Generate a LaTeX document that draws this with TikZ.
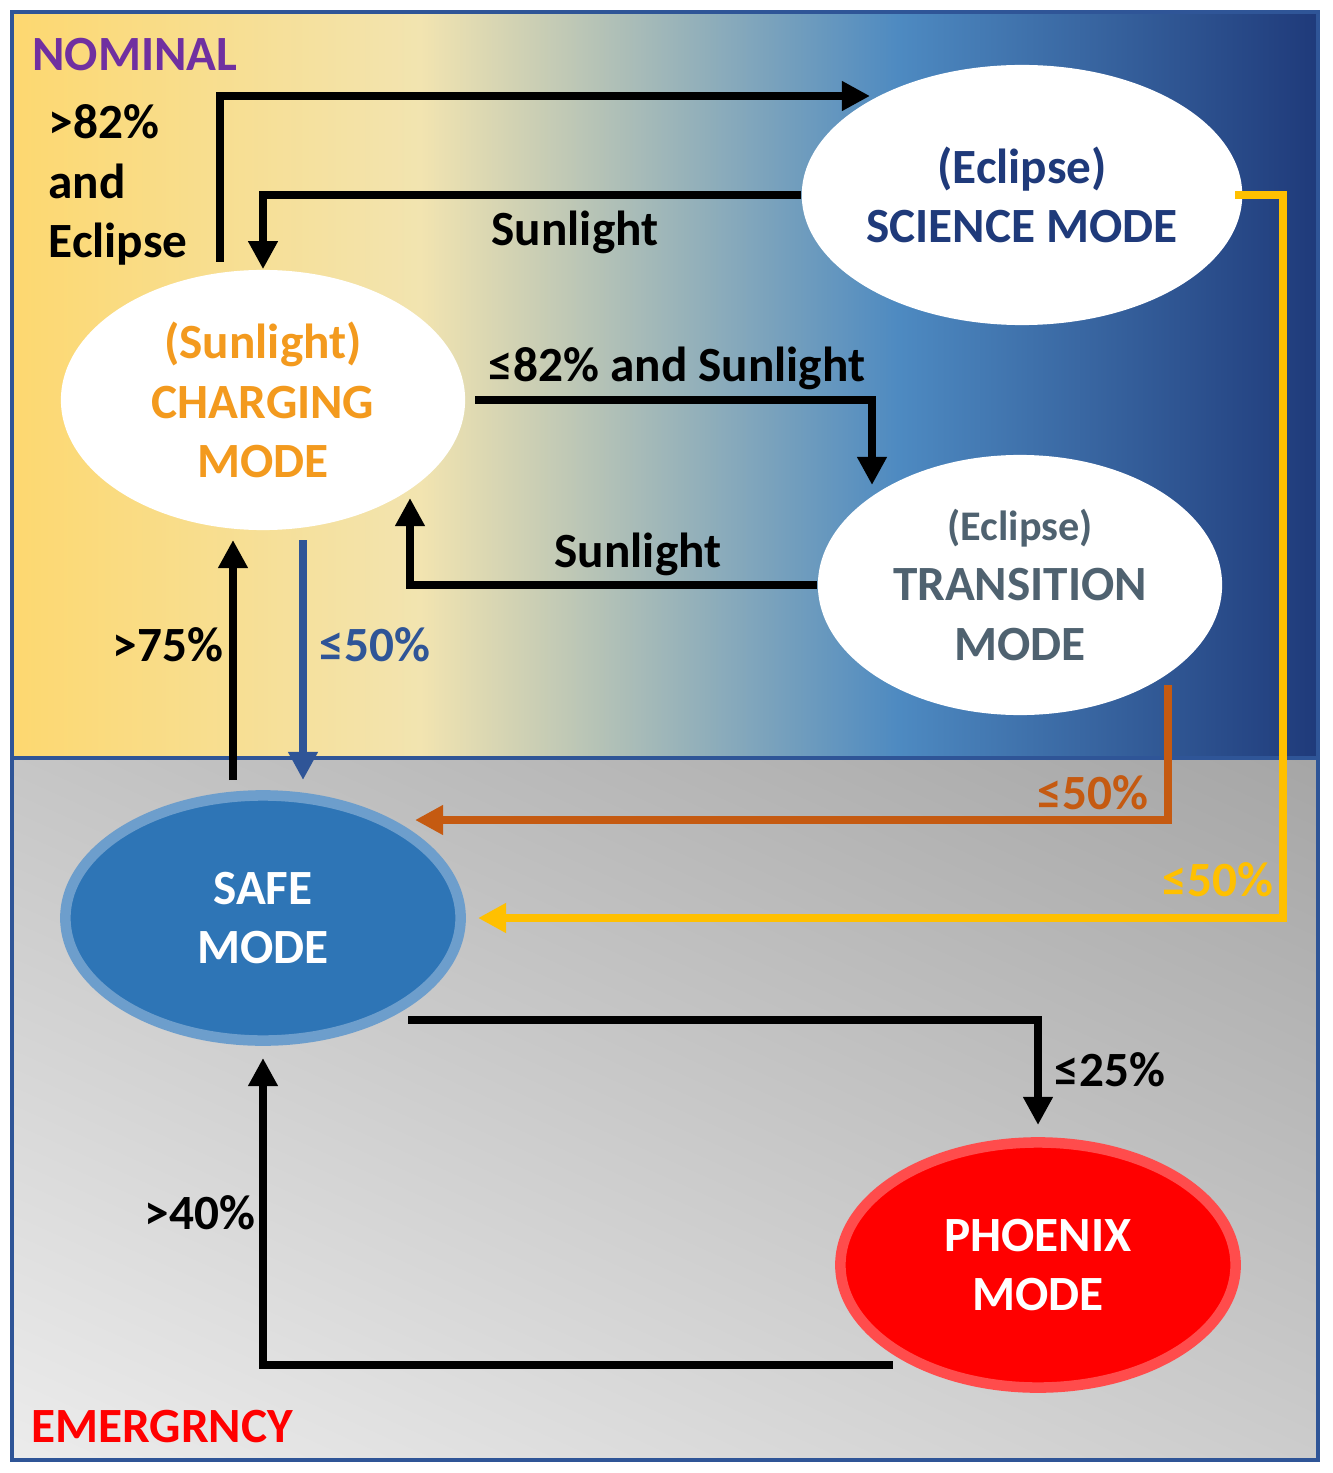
\documentclass[tikz,border=0pt]{standalone}
\usepackage{fontspec}
\setmainfont{Carlito}
\usetikzlibrary{shapes.geometric,arrows.meta,shadings}
\definecolor{chgorange}{HTML}{F39A1E}
\definecolor{sciblue}{HTML}{1F3A7A}
\definecolor{trgray}{HTML}{4F6270}
\definecolor{safeblue}{HTML}{2E75B6}
\definecolor{lowblue}{HTML}{2F5597}
\definecolor{troran}{HTML}{C55A11}
\definecolor{scigold}{HTML}{FFC000}
\definecolor{nompurple}{HTML}{7030A0}
\definecolor{cream}{HTML}{F2E4B0}
\definecolor{sunny}{HTML}{FDD870}
\tikzset{
  mode/.style={ellipse, inner sep=0pt, minimum width=4.04cm, minimum height=2.6cm, align=center,
    font=\bfseries\fontsize{14}{17}\selectfont},
  lbl/.style={font=\bfseries\fontsize{14}{17}\selectfont, align=left},
  flow/.style={line width=2.2pt, -{Triangle[length=8pt,width=8pt]}}
}
\begin{document}
\begin{tikzpicture}[x=0.01cm,y=-0.01cm]

	% Background.
	\useasboundingbox (0,0) rectangle (1332,1473);
	\fill[white] (0,0) rectangle (1332,1473);
	\shade[left color=sunny, right color=cream] (12,12) rectangle (420,758);
	\shade[left color=cream, right color=safeblue!85!white] (420,12) rectangle (900,758);
	\shade[left color=safeblue!85!white, right color=sciblue] (900,12) rectangle (1318,758);
	\shade[upper right=gray!70, lower left=gray!15, upper left=gray!45, lower right=gray!40] (12,758) rectangle (1318,1460);
	\draw[lowblue, line width=1pt] (12,12) rectangle (1318,1460) (12,758) -- (1318,758);

	% Mode nodes.
	\node[mode, fill=white, text=sciblue]         (sci) at (1022,195) {(Eclipse)\\SCIENCE MODE};
	\node[mode, fill=white, text=chgorange] (chg) at (263,400) {(Sunlight)\\CHARGING\\MODE};
	\node[mode, fill=white, text=trgray]          (trn) at (1020,585) {{\fontsize{12}{14}\selectfont(Eclipse)}\\TRANSITION\\MODE};
	\node[mode, fill=safeblue, draw=safeblue!70, line width=3pt, text=white, minimum width=3.95cm, minimum height=2.45cm] (safe) at (263,918) {SAFE\\MODE};
	\node[mode, fill=red, draw=red!70, line width=3pt, text=white, minimum width=3.95cm, minimum height=2.45cm] (phx) at (1038,1265) {PHOENIX\\MODE};

	% Titles.
	\node[lbl, text=nompurple] (nominal) at (135,55) {NOMINAL};
	\node[lbl, text=red] (emerg) at (162,1427) {EMERGRNCY};

	% Connector ends.
	\coordinate (c_up)   at (220,262);
	\coordinate (c_sci)  at (870,96);
	\coordinate (c_ch)   at (475,400);
	\coordinate (c_tr)   at (872,485);
	\coordinate (c_ret)  at (410,498);
	\coordinate (s_up)   at (233,780);
	\coordinate (ch_up)  at (233,540);
	\coordinate (ch_dn)  at (303,540);
	\coordinate (s_dn)   at (303,780);
	\coordinate (t_out)  at (1168,685);
	\coordinate (s_or)   at (415,820);
	\coordinate (sc_out) at (1235,195);
	\coordinate (sc_cor) at (1283,195);
	\coordinate (s_ye)   at (478,918);
	\coordinate (s_out)  at (408,1020);
	\coordinate (p_in)   at (1038,1125);
	\coordinate (p_out)  at (893,1365);
	\coordinate (s_in)   at (263,1058);

	% Arrows.
	\draw[flow] (c_up) |- (c_sci);
	\draw[flow] (sci.west) -| (chg.north);
	\draw[flow] (c_ch) -| (c_tr);
	\draw[flow] (trn.west) -| (c_ret);
	\draw[flow] (s_up) -- (ch_up);
	\draw[flow, lowblue] (ch_dn) -- (s_dn);
	\draw[flow, troran] (t_out) |- (s_or);
	\draw[flow, scigold] (sc_out) -- (sc_cor) |- (s_ye);
	\draw[flow] (s_out) -| (p_in);
	\draw[flow] (p_out) -| (s_in);

	% Labels.
	\node[lbl] (l_eclipse) at (118,185) {>82\%\\and\\Eclipse};
	\node[lbl] (l_sun1)    at (575,232) {Sunlight};
	\node[lbl] (l_82)      at (677,368) {≤82\% and Sunlight};
	\node[lbl] (l_sun2)    at (638,554) {Sunlight};
	\node[lbl] (l_75)      at (168,645) {>75\%};
	\node[lbl, text=lowblue] (l_50b) at (375,645) {≤50\%};
	\node[lbl, text=troran]  (l_50o) at (1093,793) {≤50\%};
	\node[lbl, text=scigold] (l_50y) at (1218,880) {≤50\%};
	\node[lbl] (l_25)      at (1110,1070) {≤25\%};
	\node[lbl] (l_40)      at (200,1213) {>40\%};

\end{tikzpicture}
\end{document}
